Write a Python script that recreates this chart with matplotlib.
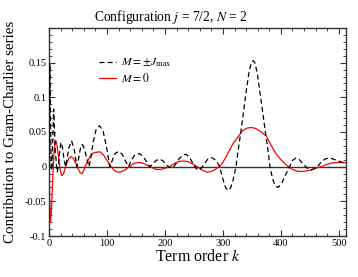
import numpy as np
import matplotlib
matplotlib.use('Agg')
from matplotlib import pyplot as plt
from matplotlib.ticker import MultipleLocator, FixedLocator, FixedFormatter

plt.rcParams['font.family'] = ['Liberation Serif', 'DejaVu Serif']
plt.rcParams['mathtext.fontset'] = 'stix'

# M = +-J_max  (black dashed)
k_jmax = [0, 1.5, 3.5, 5, 8, 11, 14, 16, 18, 20.5, 23, 26, 28.5, 31, 34, 39, 44, 48,
          51, 54, 57.5, 61, 65, 69, 72, 76, 81, 87, 93, 99, 105, 109, 114, 120, 126,
          132, 137, 141, 147, 156, 163, 169, 174, 179, 185, 191, 197, 203, 208, 212,
          217, 224, 230, 236, 242, 248, 253, 258, 263, 268, 274, 281, 288, 294.5, 298,
          302, 305, 309, 313, 317, 320, 322.5, 326, 330, 335, 340, 345, 349, 352, 355,
          359, 364, 369, 374, 378, 381, 385, 389, 395, 401, 405, 409, 415, 420, 426,
          432, 438, 443, 448, 452, 457, 463, 469, 476, 483, 490, 497, 506, 512]
v_jmax = [0.0, 0.148, 0.0, -0.005, 0.083, 0.02, -0.008, 0.0, 0.02, 0.035, 0.028, 0.01,
          0.0, 0.01, 0.027, 0.037, 0.022, 0.0, 0.012, 0.026, 0.032, 0.026, 0.012, 0.0,
          0.012, 0.035, 0.053, 0.059, 0.052, 0.029, 0.0, 0.009, 0.019, 0.022, 0.018,
          0.008, 0.0, 0.007, 0.016, 0.019, 0.014, 0.006, 0.0, 0.004, 0.009, 0.011,
          0.008, 0.002, -0.001, -0.002, 0.002, 0.011, 0.016, 0.018, 0.014, 0.005,
          -0.002, -0.005, -0.002, 0.004, 0.011, 0.013, 0.009, 0.0, -0.012, -0.024,
          -0.031, -0.034, -0.031, -0.021, -0.010, 0.0, 0.022, 0.045, 0.076, 0.108,
          0.136, 0.150, 0.153, 0.150, 0.136, 0.106, 0.076, 0.045, 0.022, 0.0, -0.015,
          -0.026, -0.030, -0.025, -0.017, -0.010, 0.0, 0.009, 0.0125, 0.010, 0.004,
          0.0, -0.004, -0.005, -0.003, 0.0, 0.006, 0.011, 0.0125, 0.011, 0.009, 0.006,
          0.004]

# M = 0  (red solid)
k_m0 = [0, 1, 2.5, 4, 6, 8, 10, 12, 14, 17, 19, 22, 25, 28, 31, 34, 38, 42, 46, 50,
        54, 57, 60, 62, 66, 71, 77, 87.5, 94, 100, 107, 112, 117, 122, 128, 134, 139,
        145, 150, 156, 162, 169, 175, 181, 186, 192, 198, 203, 208, 215, 222, 228,
        234, 240, 246, 251, 256, 262, 267, 273, 279, 285, 290, 294, 298, 301, 306,
        312, 318, 326, 333, 341, 349, 357, 366, 375, 383, 392, 400, 406, 413, 420,
        428, 435, 442, 450, 458, 465, 470, 478, 486, 495, 506, 512]
v_m0 = [0.0, -0.05, -0.080, -0.065, -0.025, 0.012, 0.032, 0.037, 0.03, 0.010, -0.004,
        -0.013, -0.010, -0.002, 0.006, 0.012, 0.0145, 0.012, 0.005, -0.003, -0.009,
        -0.010, -0.005, 0.0, 0.007, 0.015, 0.020, 0.0215, 0.017, 0.009, 0.0, -0.005,
        -0.0075, -0.008, -0.006, -0.003, 0.0, 0.004, 0.0055, 0.006, 0.005, 0.002,
        0.0, -0.003, -0.004, -0.004, -0.003, -0.0015, 0.0, 0.004, 0.007, 0.008,
        0.008, 0.007, 0.005, 0.002, 0.0, -0.004, -0.006, -0.008, -0.007, -0.005,
        -0.002, 0.0, 0.004, 0.008, 0.015, 0.025, 0.034, 0.043, 0.051, 0.0555,
        0.0565, 0.055, 0.050, 0.044, 0.031, 0.018, 0.010, 0.005, 0.0, -0.004,
        -0.0065, -0.007, -0.0065, -0.005, -0.003, -0.001, 0.0, 0.003, 0.005, 0.006,
        0.006, 0.006]

xticks = [0, 100, 200, 300, 400, 500]
yticks = [-0.1, -0.05, 0, 0.05, 0.1, 0.15]
ytick_labels = ['-0.1', '-0.05', '0', '0.05', '0.1', '0.15']

fig = plt.figure(figsize=(3.58, 2.77), dpi=100)
ax = fig.add_axes([0.137, 0.148, 0.829, 0.751])

ax.axhline(0, color='#333333', lw=1.0, zorder=1)
ax.plot(k_jmax, v_jmax, color='black', lw=0.9, ls=(0, (4, 2.5)), label=r'$M = \pm J_{\rm max}$', zorder=3)
ax.plot(k_m0, v_m0, color='red', lw=0.9, label=r'$M = 0$', zorder=2)

ax.set_xlim(0, 512)
ax.set_ylim(-0.1, 0.2)
ax.xaxis.set_major_locator(FixedLocator(xticks))
ax.xaxis.set_minor_locator(MultipleLocator(20))
ax.yaxis.set_major_locator(FixedLocator(yticks))
ax.yaxis.set_major_formatter(FixedFormatter(ytick_labels))
ax.yaxis.set_minor_locator(MultipleLocator(0.01))
ax.tick_params(which='both', direction='in', top=True, right=True, labelsize=7.5, pad=2, color='#333333')
ax.tick_params(which='major', length=4, width=0.8)
ax.tick_params(which='minor', length=2, width=0.6)
for s in ax.spines.values():
    s.set_color('#333333')
    s.set_linewidth(1.0)

ax.set_title(r'Configuration $j$ = 7/2, $N$ = 2', fontsize=9.8, x=0.41, pad=5)
ax.set_xlabel(r'Term order $k$', fontsize=11.5, labelpad=1)
ax.set_ylabel('Contribution to Gram-Charlier series', fontsize=10.8)
ax.yaxis.set_label_coords(-0.108, 0.5)

ax.legend(loc='upper left', bbox_to_anchor=(0.17, 0.862), frameon=False, fontsize=8.5,
          handlelength=1.4, handletextpad=0.4, labelspacing=0.25,
          borderpad=0, borderaxespad=0)

fig.savefig('out.png', dpi=100)
